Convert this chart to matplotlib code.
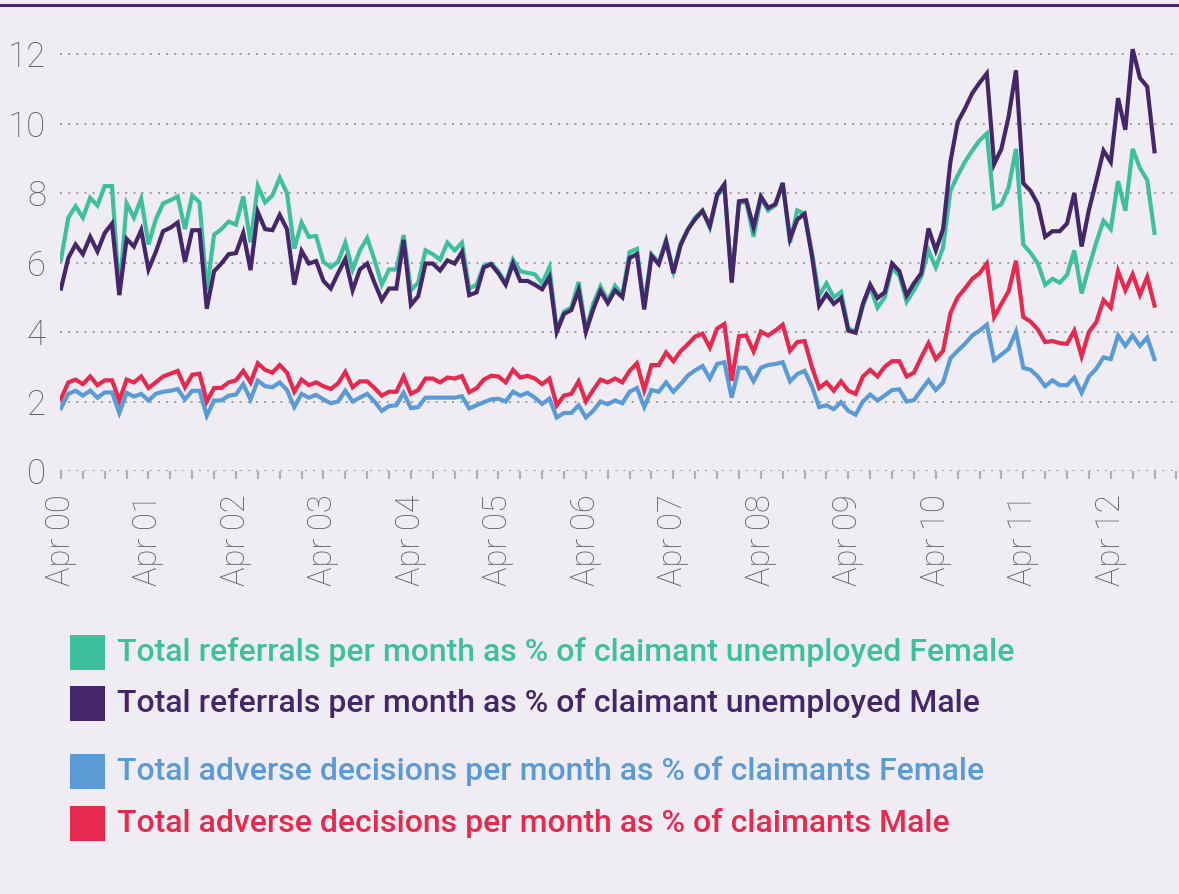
import numpy as np
import matplotlib
matplotlib.use("Agg")
import matplotlib.pyplot as plt
from matplotlib.patches import Rectangle
from matplotlib.lines import Line2D

plt.rcParams["font.family"] = ["Roboto", "DejaVu Sans"]

# monthly values, Apr 2000 to Oct 2012 (one row per year starting in April)
referrals_female = [
    6.08, 7.29, 7.62, 7.29, 7.86, 7.64, 8.20, 8.20, 5.09, 7.70, 7.29, 7.84,
    6.52, 7.24, 7.70, 7.79, 7.90, 6.96, 7.93, 7.73, 5.20, 6.80, 6.96, 7.18,
    7.09, 7.90, 6.58, 8.20, 7.73, 7.93, 8.44, 8.00, 6.40, 7.15, 6.74, 6.76,
    6.02, 5.86, 6.02, 6.57, 5.80, 6.35, 6.70, 6.08, 5.36, 5.80, 5.80, 6.79,
    5.20, 5.42, 6.35, 6.24, 6.08, 6.57, 6.35, 6.57, 5.25, 5.36, 5.91, 5.97,
    5.75, 5.40, 6.08, 5.75, 5.70, 5.66, 5.40, 5.86, 4.05, 4.59, 4.70, 5.44,
    4.05, 4.81, 5.31, 4.90, 5.33, 5.05, 6.30, 6.39, 4.76, 6.24, 6.00, 6.65,
    5.75, 6.55, 6.96, 7.30, 7.50, 7.00, 7.90, 8.20, 5.50, 7.70, 7.75, 6.74,
    7.85, 7.50, 7.65, 8.30, 6.57, 7.50, 7.40, 6.30, 5.05, 5.40, 5.00, 5.15,
    4.10, 4.00, 4.75, 5.30, 4.70, 5.00, 5.85, 5.62, 4.87, 5.20, 5.58, 6.35,
    5.86, 6.43, 8.06, 8.50, 8.90, 9.22, 9.51, 9.71, 7.57, 7.68, 8.17, 9.27,
    6.52, 6.28, 5.97, 5.36, 5.53, 5.42, 5.64, 6.35, 5.11, 5.86, 6.57, 7.20,
    6.96, 8.34, 7.49, 9.27, 8.72, 8.37, 6.85,
]
referrals_male = [
    5.25, 6.13, 6.52, 6.24, 6.74, 6.32, 6.85, 7.12, 5.06, 6.68, 6.46, 6.93,
    5.80, 6.30, 6.90, 7.00, 7.15, 6.02, 6.93, 6.93, 4.67, 5.75, 5.97, 6.24,
    6.27, 6.85, 5.78, 7.45, 6.96, 6.93, 7.37, 6.96, 5.36, 6.33, 5.97, 6.04,
    5.47, 5.25, 5.69, 6.10, 5.20, 5.80, 5.97, 5.42, 4.92, 5.25, 5.25, 6.65,
    4.78, 5.03, 5.97, 5.97, 5.77, 6.06, 5.97, 6.30, 5.06, 5.14, 5.86, 5.95,
    5.69, 5.36, 5.97, 5.47, 5.47, 5.36, 5.23, 5.58, 4.00, 4.52, 4.63, 5.20,
    4.00, 4.65, 5.18, 4.83, 5.20, 5.00, 6.13, 6.24, 4.65, 6.19, 5.95, 6.60,
    5.69, 6.50, 6.95, 7.25, 7.48, 7.05, 7.95, 8.25, 5.42, 7.76, 7.79, 7.02,
    7.90, 7.57, 7.68, 8.28, 6.68, 7.24, 7.40, 6.20, 4.76, 5.09, 4.81, 4.98,
    4.04, 3.98, 4.81, 5.36, 4.98, 5.14, 5.97, 5.75, 5.05, 5.40, 5.69, 6.98,
    6.35, 6.96, 8.89, 10.04, 10.43, 10.87, 11.17, 11.44, 8.83, 9.27, 10.21, 11.53,
    8.28, 8.06, 7.68, 6.74, 6.90, 6.90, 7.12, 8.00, 6.46, 7.51, 8.34, 9.22,
    8.89, 10.73, 9.82, 12.14, 11.31, 11.06, 9.20,
]
adverse_female = [
    1.81, 2.22, 2.31, 2.17, 2.31, 2.11, 2.26, 2.26, 1.67, 2.25, 2.14, 2.22,
    2.03, 2.22, 2.28, 2.31, 2.36, 2.06, 2.31, 2.31, 1.59, 2.03, 2.03, 2.17,
    2.20, 2.50, 2.06, 2.60, 2.44, 2.41, 2.55, 2.33, 1.84, 2.22, 2.11, 2.19,
    2.06, 1.95, 2.00, 2.31, 2.00, 2.11, 2.22, 2.00, 1.73, 1.87, 1.89, 2.25,
    1.81, 1.84, 2.11, 2.11, 2.11, 2.11, 2.11, 2.15, 1.80, 1.89, 1.98, 2.06,
    2.08, 2.00, 2.28, 2.17, 2.25, 2.11, 1.93, 2.08, 1.54, 1.67, 1.67, 1.89,
    1.54, 1.73, 2.00, 1.92, 2.03, 1.95, 2.28, 2.39, 1.84, 2.33, 2.28, 2.55,
    2.28, 2.50, 2.75, 2.90, 3.02, 2.66, 3.08, 3.13, 2.11, 2.97, 2.97, 2.58,
    2.97, 3.05, 3.08, 3.13, 2.58, 2.79, 2.88, 2.44, 1.84, 1.89, 1.78, 1.98,
    1.73, 1.62, 2.00, 2.20, 2.03, 2.17, 2.33, 2.35, 2.00, 2.04, 2.33, 2.61,
    2.33, 2.55, 3.24, 3.46, 3.66, 3.90, 4.04, 4.21, 3.19, 3.35, 3.52, 4.01,
    2.97, 2.91, 2.72, 2.44, 2.61, 2.47, 2.47, 2.69, 2.25, 2.72, 2.94, 3.27,
    3.22, 3.90, 3.60, 3.90, 3.60, 3.84, 3.22,
]
adverse_male = [
    2.08, 2.55, 2.63, 2.50, 2.72, 2.47, 2.61, 2.61, 2.03, 2.63, 2.55, 2.72,
    2.39, 2.55, 2.72, 2.80, 2.88, 2.41, 2.77, 2.80, 2.00, 2.39, 2.39, 2.55,
    2.61, 2.88, 2.55, 3.10, 2.91, 2.83, 3.05, 2.83, 2.28, 2.63, 2.47, 2.55,
    2.44, 2.36, 2.52, 2.85, 2.41, 2.58, 2.58, 2.39, 2.17, 2.28, 2.28, 2.72,
    2.22, 2.33, 2.66, 2.66, 2.55, 2.69, 2.66, 2.73, 2.27, 2.38, 2.63, 2.74,
    2.72, 2.55, 2.91, 2.69, 2.74, 2.66, 2.50, 2.66, 1.89, 2.17, 2.22, 2.58,
    2.00, 2.33, 2.63, 2.55, 2.66, 2.55, 2.88, 3.10, 2.33, 3.05, 3.05, 3.41,
    3.16, 3.45, 3.65, 3.87, 3.95, 3.55, 4.10, 4.23, 2.60, 3.88, 3.90, 3.44,
    4.01, 3.90, 4.04, 4.21, 3.46, 3.71, 3.74, 3.00, 2.39, 2.55, 2.31, 2.58,
    2.31, 2.22, 2.72, 2.91, 2.72, 3.00, 3.16, 3.16, 2.72, 2.83, 3.27, 3.68,
    3.22, 3.46, 4.54, 5.00, 5.25, 5.53, 5.69, 5.97, 4.43, 4.81, 5.18, 6.05,
    4.43, 4.30, 4.07, 3.71, 3.74, 3.68, 3.66, 4.04, 3.30, 4.00, 4.28, 4.92,
    4.70, 5.75, 5.20, 5.66, 5.07, 5.58, 4.76,
]

year_labels = ["Apr 00", "Apr 01", "Apr 02", "Apr 03", "Apr 04", "Apr 05", "Apr 06",
               "Apr 07", "Apr 08", "Apr 09", "Apr 10", "Apr 11", "Apr 12"]
y_ticks = [0, 2, 4, 6, 8, 10, 12]

legend_labels = [
    "Total referrals per month as % of claimant unemployed Female",
    "Total referrals per month as % of claimant unemployed Male",
    "Total adverse decisions per month as % of claimants Female",
    "Total adverse decisions per month as % of claimants Male",
]

BG = "#EFEDF3"
GREEN = "#3FC09D"
PURPLE = "#46266A"
BLUE = "#5A9BD6"
RED = "#E5294F"
GREY = "#5f5f5f"

W, H = 1179, 894
fig = plt.figure(figsize=(W / 100, H / 100), dpi=100, facecolor=BG)

# axes placed in pixel terms: 0 at y=471, 34.75 px per unit, 7.29 px per month
px_month = 7.29
px_unit = 34.75
left_px, zero_px = 60, 471
ymax = 12.5
ax = fig.add_axes([left_px / W, (H - zero_px) / H,
                   1 - left_px / W, ymax * px_unit / H])
ax.set_facecolor(BG)

x = np.arange(len(referrals_female))
ax.plot(x, adverse_female, color=BLUE, lw=3, solid_joinstyle="miter", zorder=3)
ax.plot(x, adverse_male, color=RED, lw=3, solid_joinstyle="miter", zorder=4)
ax.plot(np.arange(len(referrals_female)), referrals_female, color=GREEN, lw=3,
        solid_joinstyle="miter", zorder=5)
ax.plot(np.arange(len(referrals_male)), referrals_male, color=PURPLE, lw=3,
        solid_joinstyle="miter", zorder=6)

first_offset = (61 - left_px) / px_month
ax.set_xlim(-first_offset, (W - left_px) / px_month - first_offset)
ax.set_ylim(0, ymax)

for s in ax.spines.values():
    s.set_visible(False)

ax.set_yticks(y_ticks)
ax.set_yticklabels([str(v) for v in y_ticks], fontweight="light")
ax.yaxis.grid(True, color="#9c9c9c", lw=1.4, linestyle=(0, (1, 3.2)))
ax.tick_params(axis="y", length=0, pad=10, labelsize=25, labelcolor=GREY)

ax.set_xticks(np.arange(len(year_labels)) * 12)
ax.set_xticklabels(year_labels, rotation=90, va="top", ha="center",
                   fontweight="light")
ax.set_xticks(np.arange(0, 154, 3), minor=True)
ax.tick_params(axis="x", which="both", direction="out", length=6, width=1.6,
               color="#b0b0b0", pad=11, labelsize=23.5, labelcolor=GREY)
ax.set_axisbelow(True)

# purple rule at the top
fig.add_artist(Line2D([0, 1], [1 - 5 / H, 1 - 5 / H], transform=fig.transFigure,
                      color=PURPLE, lw=2.2))

# legend: coloured squares + coloured text
colors = [GREEN, PURPLE, BLUE, RED]
row_centers = [652, 703, 771, 823]
texts = []
for lab, col, yc in zip(legend_labels, colors, row_centers):
    fig.add_artist(Rectangle((70 / W, (H - yc - 17.5) / H), 35 / W, 35 / H,
                             transform=fig.transFigure, color=col, lw=0))
    t = fig.text(117 / W, (H - yc) / H, lab, color=col, fontsize=22,
                 va="center", ha="left", fontweight="medium")
    texts.append(t)

renderer = fig.canvas.get_renderer()
w0 = texts[0].get_window_extent(renderer).width
size = 22 * 900 / w0
for t in texts:
    t.set_fontsize(size)

fig.savefig("out.png", dpi=100, facecolor=BG)
